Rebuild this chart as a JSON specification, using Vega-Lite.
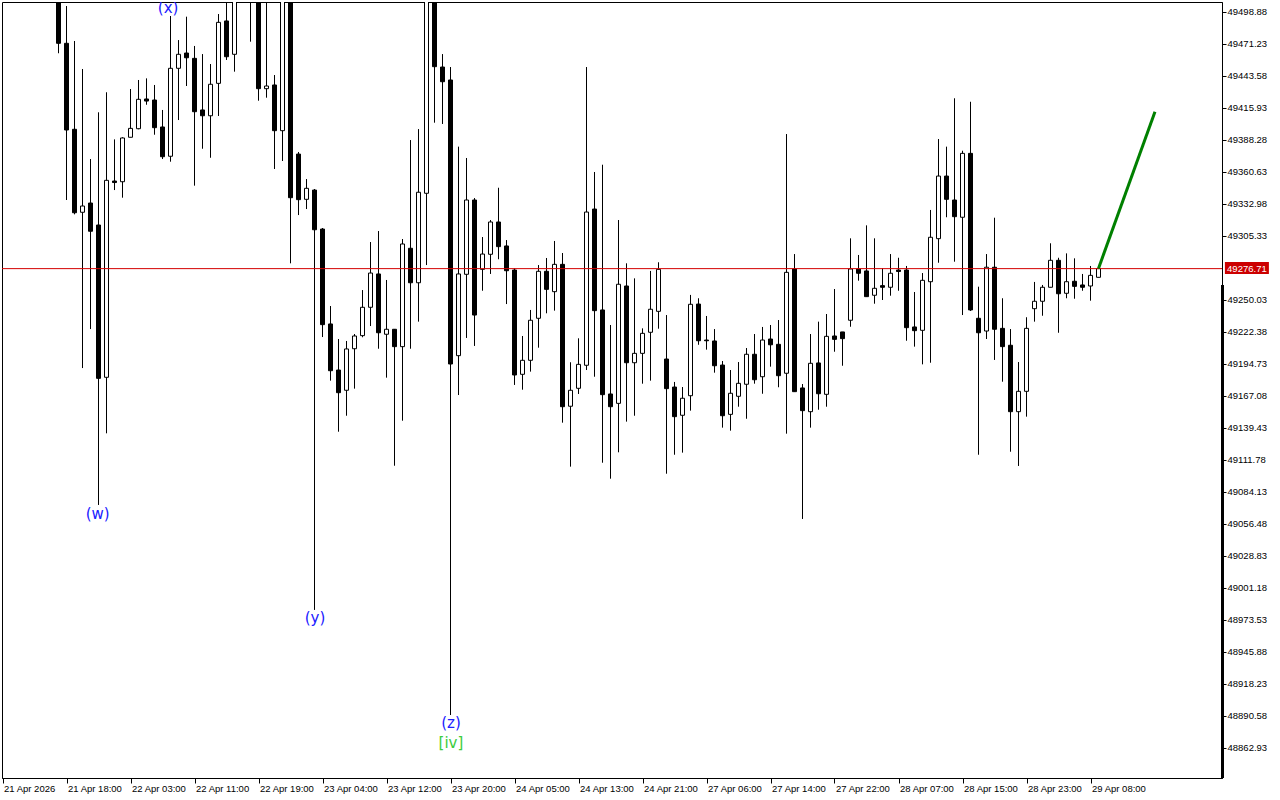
{
  "$schema": "https://vega.github.io/schema/vega-lite/v6.json",
  "width": 1220,
  "height": 776,
  "autosize": {"type": "none"},
  "padding": {"left": 2, "top": 2, "right": 58, "bottom": 22},
  "background": "#ffffff",
  "config": {
    "view": {"stroke": "#000000", "strokeWidth": 1},
    "font": "Liberation Sans",
    "axis": {"labelOverlap": false, "labelBound": false, "labelFlush": false, "grid": false, "title": null},
    "axisY": {"labelOverlap": false, "tickCount": 40},
    "axisX": {"labelOverlap": false, "tickCount": 40}
  },
  "datasets": {
    "candles": [
      {"i":7,"o":49521.8,"h":49534.7,"l":49462.8,"c":49471.4},
      {"i":8,"o":49471.4,"h":49503.6,"l":49336.0,"c":49396.5},
      {"i":9,"o":49397.1,"h":49473.4,"l":49323.6,"c":49325.0},
      {"i":10,"o":49325.4,"h":49449.2,"l":49190.8,"c":49330.8},
      {"i":11,"o":49333.4,"h":49371.4,"l":49224.5,"c":49309.0},
      {"i":12,"o":49314.4,"h":49411.8,"l":49072.5,"c":49181.9},
      {"i":13,"o":49182.8,"h":49429.1,"l":49134.4,"c":49353.0},
      {"i":14,"o":49352.4,"h":49388.4,"l":49344.6,"c":49351.1},
      {"i":15,"o":49351.8,"h":49390.2,"l":49338.0,"c":49389.6},
      {"i":16,"o":49390.2,"h":49431.9,"l":49390.2,"c":49397.9},
      {"i":17,"o":49397.6,"h":49439.7,"l":49397.1,"c":49423.0},
      {"i":18,"o":49423.3,"h":49441.1,"l":49418.3,"c":49421.5},
      {"i":19,"o":49422.4,"h":49435.4,"l":49392.4,"c":49398.5},
      {"i":20,"o":49399.1,"h":49413.8,"l":49371.4,"c":49373.4},
      {"i":21,"o":49373.8,"h":49495.0,"l":49369.1,"c":49449.8},
      {"i":22,"o":49449.8,"h":49474.2,"l":49405.1,"c":49461.9},
      {"i":23,"o":49463.0,"h":49494.4,"l":49434.5,"c":49458.9},
      {"i":24,"o":49458.4,"h":49469.1,"l":49348.4,"c":49412.3},
      {"i":25,"o":49413.8,"h":49462.1,"l":49380.3,"c":49408.8},
      {"i":26,"o":49408.8,"h":49453.5,"l":49372.5,"c":49436.0},
      {"i":27,"o":49436.8,"h":49496.7,"l":49408.6,"c":49489.5},
      {"i":28,"o":49490.7,"h":49513.1,"l":49457.0,"c":49459.8},
      {"i":29,"o":49461.9,"h":49526.1,"l":49446.9,"c":49517.4},
      {"i":30,"o":49526.1,"h":49552.0,"l":49511.4,"c":49543.4},
      {"i":31,"o":49543.4,"h":49552.0,"l":49472.8,"c":49521.8},
      {"i":32,"o":49521.8,"h":49530.4,"l":49421.8,"c":49432.2},
      {"i":33,"o":49432.2,"h":49517.4,"l":49424.4,"c":49434.5},
      {"i":34,"o":49435.4,"h":49444.0,"l":49362.8,"c":49395.9},
      {"i":35,"o":49395.9,"h":49526.1,"l":49369.7,"c":49517.4},
      {"i":36,"o":49517.4,"h":49526.1,"l":49281.3,"c":49338.0},
      {"i":37,"o":49375.7,"h":49377.5,"l":49323.0,"c":49336.3},
      {"i":38,"o":49336.6,"h":49354.1,"l":49328.2,"c":49346.1},
      {"i":39,"o":49344.6,"h":49345.5,"l":48981.8,"c":49310.3},
      {"i":40,"o":49310.9,"h":49311.8,"l":49217.6,"c":49228.3},
      {"i":41,"o":49228.9,"h":49244.4,"l":49179.9,"c":49188.5},
      {"i":42,"o":49189.1,"h":49215.9,"l":49135.8,"c":49169.5},
      {"i":43,"o":49171.6,"h":49214.2,"l":49149.6,"c":49207.3},
      {"i":44,"o":49207.5,"h":49220.2,"l":49173.0,"c":49218.5},
      {"i":45,"o":49218.8,"h":49258.2,"l":49217.4,"c":49243.3},
      {"i":46,"o":49243.3,"h":49299.7,"l":49227.1,"c":49272.9},
      {"i":47,"o":49272.1,"h":49309.2,"l":49207.5,"c":49221.3},
      {"i":48,"o":49220.0,"h":49266.9,"l":49182.5,"c":49224.3},
      {"i":49,"o":49224.3,"h":49224.5,"l":49106.4,"c":49209.3},
      {"i":50,"o":49209.3,"h":49302.3,"l":49145.3,"c":49298.0},
      {"i":51,"o":49294.3,"h":49387.8,"l":49207.5,"c":49264.5},
      {"i":52,"o":49264.5,"h":49397.3,"l":49230.9,"c":49342.7},
      {"i":53,"o":49341.8,"h":49526.1,"l":49279.8,"c":49517.4},
      {"i":54,"o":49517.4,"h":49526.1,"l":49402.8,"c":49451.2},
      {"i":55,"o":49450.9,"h":49462.1,"l":49401.7,"c":49438.2},
      {"i":56,"o":49439.7,"h":49450.9,"l":48891.0,"c":49194.3},
      {"i":57,"o":49201.5,"h":49382.1,"l":49167.5,"c":49272.1},
      {"i":58,"o":49271.8,"h":49372.3,"l":49216.8,"c":49336.0},
      {"i":59,"o":49336.0,"h":49337.7,"l":49209.9,"c":49236.6},
      {"i":60,"o":49276.1,"h":49304.0,"l":49257.6,"c":49289.3},
      {"i":61,"o":49289.1,"h":49318.7,"l":49272.1,"c":49317.0},
      {"i":62,"o":49317.0,"h":49346.6,"l":49284.8,"c":49295.7},
      {"i":63,"o":49296.3,"h":49301.4,"l":49246.1,"c":49274.9},
      {"i":64,"o":49275.5,"h":49277.0,"l":49176.2,"c":49184.8},
      {"i":65,"o":49185.4,"h":49218.5,"l":49172.1,"c":49197.5},
      {"i":66,"o":49197.5,"h":49241.0,"l":49187.7,"c":49232.1},
      {"i":67,"o":49233.8,"h":49279.8,"l":49208.4,"c":49274.4},
      {"i":68,"o":49274.4,"h":49285.9,"l":49238.1,"c":49258.8},
      {"i":69,"o":49256.8,"h":49300.6,"l":49240.4,"c":49280.4},
      {"i":70,"o":49280.4,"h":49290.2,"l":49143.6,"c":49157.4},
      {"i":71,"o":49157.8,"h":49195.8,"l":49105.6,"c":49171.6},
      {"i":72,"o":49173.3,"h":49216.5,"l":49168.4,"c":49194.0},
      {"i":73,"o":49193.2,"h":49450.9,"l":49189.1,"c":49325.6},
      {"i":74,"o":49328.2,"h":49360.2,"l":49183.3,"c":49240.4},
      {"i":75,"o":49241.0,"h":49366.5,"l":49109.0,"c":49167.8},
      {"i":76,"o":49168.4,"h":49228.0,"l":49095.2,"c":49157.4},
      {"i":77,"o":49160.3,"h":49318.7,"l":49118.0,"c":49263.2},
      {"i":78,"o":49261.7,"h":49281.3,"l":49144.5,"c":49195.4},
      {"i":79,"o":49195.4,"h":49268.3,"l":49149.6,"c":49203.5},
      {"i":80,"o":49203.5,"h":49225.1,"l":49177.3,"c":49220.8},
      {"i":81,"o":49221.7,"h":49274.7,"l":49179.9,"c":49241.6},
      {"i":82,"o":49239.8,"h":49282.2,"l":49224.8,"c":49276.1},
      {"i":83,"o":49198.6,"h":49236.6,"l":49099.5,"c":49173.0},
      {"i":84,"o":49174.4,"h":49178.8,"l":49115.9,"c":49148.8},
      {"i":85,"o":49150.0,"h":49174.4,"l":49117.7,"c":49164.7},
      {"i":86,"o":49166.9,"h":49254.0,"l":49154.0,"c":49245.9},
      {"i":87,"o":49246.1,"h":49251.1,"l":49210.9,"c":49214.4},
      {"i":88,"o":49215.0,"h":49235.8,"l":49206.7,"c":49214.4},
      {"i":89,"o":49214.2,"h":49224.5,"l":49186.8,"c":49192.8},
      {"i":90,"o":49193.4,"h":49196.9,"l":49139.3,"c":49149.6},
      {"i":91,"o":49150.8,"h":49189.1,"l":49136.7,"c":49169.0},
      {"i":92,"o":49166.4,"h":49196.0,"l":49157.4,"c":49177.6},
      {"i":93,"o":49176.8,"h":49208.1,"l":49147.0,"c":49202.7},
      {"i":94,"o":49202.7,"h":49220.2,"l":49177.3,"c":49180.7},
      {"i":95,"o":49183.3,"h":49226.3,"l":49168.6,"c":49215.0},
      {"i":96,"o":49215.9,"h":49228.0,"l":49192.0,"c":49210.9},
      {"i":97,"o":49211.3,"h":49232.3,"l":49174.2,"c":49184.2},
      {"i":98,"o":49186.3,"h":49393.0,"l":49134.1,"c":49273.5},
      {"i":99,"o":49276.4,"h":49289.3,"l":49170.4,"c":49170.4},
      {"i":100,"o":49173.6,"h":49177.0,"l":49060.4,"c":49154.0},
      {"i":101,"o":49153.1,"h":49220.2,"l":49139.3,"c":49194.9},
      {"i":102,"o":49195.2,"h":49230.9,"l":49154.8,"c":49168.6},
      {"i":103,"o":49168.1,"h":49237.5,"l":49157.4,"c":49218.2},
      {"i":104,"o":49218.5,"h":49259.1,"l":49204.9,"c":49215.6},
      {"i":105,"o":49222.0,"h":49222.0,"l":49192.8,"c":49216.2},
      {"i":106,"o":49232.1,"h":49302.9,"l":49226.5,"c":49276.4},
      {"i":107,"o":49276.4,"h":49288.5,"l":49266.3,"c":49272.7},
      {"i":108,"o":49274.7,"h":49314.1,"l":49252.5,"c":49252.5},
      {"i":109,"o":49253.7,"h":49302.9,"l":49246.4,"c":49259.7},
      {"i":110,"o":49262.0,"h":49277.0,"l":49249.6,"c":49260.6},
      {"i":111,"o":49260.6,"h":49289.3,"l":49253.3,"c":49272.7},
      {"i":112,"o":49275.5,"h":49286.1,"l":49257.6,"c":49274.2},
      {"i":113,"o":49275.5,"h":49279.0,"l":49214.4,"c":49225.7},
      {"i":114,"o":49226.3,"h":49256.5,"l":49209.3,"c":49223.1},
      {"i":115,"o":49223.4,"h":49272.9,"l":49194.0,"c":49266.6},
      {"i":116,"o":49265.4,"h":49327.4,"l":49195.4,"c":49303.8},
      {"i":117,"o":49302.6,"h":49388.7,"l":49281.8,"c":49356.7},
      {"i":118,"o":49356.7,"h":49382.1,"l":49321.1,"c":49336.6},
      {"i":119,"o":49336.0,"h":49423.9,"l":49282.7,"c":49321.6},
      {"i":120,"o":49321.1,"h":49378.6,"l":49236.6,"c":49376.3},
      {"i":121,"o":49376.3,"h":49420.9,"l":49240.1,"c":49241.0},
      {"i":122,"o":49233.8,"h":49261.1,"l":49115.9,"c":49221.3},
      {"i":123,"o":49222.8,"h":49289.3,"l":49215.9,"c":49277.9},
      {"i":124,"o":49277.9,"h":49320.7,"l":49197.8,"c":49224.3},
      {"i":125,"o":49225.1,"h":49251.1,"l":49179.0,"c":49209.3},
      {"i":126,"o":49210.5,"h":49224.5,"l":49118.5,"c":49153.1},
      {"i":127,"o":49153.1,"h":49196.0,"l":49106.2,"c":49170.7},
      {"i":128,"o":49170.7,"h":49234.7,"l":49148.8,"c":49225.1},
      {"i":129,"o":49242.1,"h":49265.2,"l":49230.9,"c":49248.5},
      {"i":130,"o":49248.5,"h":49262.6,"l":49236.0,"c":49260.6},
      {"i":131,"o":49260.6,"h":49298.6,"l":49260.6,"c":49283.9},
      {"i":132,"o":49283.9,"h":49286.1,"l":49221.3,"c":49255.0},
      {"i":133,"o":49255.4,"h":49289.9,"l":49251.1,"c":49265.4},
      {"i":134,"o":49265.8,"h":49285.6,"l":49250.7,"c":49261.4},
      {"i":135,"o":49262.6,"h":49272.1,"l":49257.6,"c":49260.6},
      {"i":136,"o":49261.7,"h":49279.0,"l":49249.0,"c":49270.9},
      {"i":137,"o":49269.2,"h":49279.0,"l":49269.2,"c":49276.71}
    ],
    "waves": [
      {"t":"(x)","i":20.7,"p":49502.3,"deg":"minor"},
      {"t":"(w)","i":11.9,"p":49064.7,"deg":"minor"},
      {"t":"(y)","i":39.06,"p":48974.8,"deg":"minor"},
      {"t":"(z)","i":56.06,"p":48884.1,"deg":"minor"},
      {"t":"[iv]","i":56.06,"p":48866.8,"deg":"intermediate"}
    ],
    "proj": [
      {"i":137,"p":49276.9},
      {"i":144.06,"p":49412.3}
    ],
    "one": [{}]
  },
  "layer": [
    {
      "data": {"name": "candles"},
      "mark": {"type": "rule", "color": "#000000", "strokeWidth": 1, "clip": true},
      "encoding": {
        "x": {
          "field": "i", "type": "quantitative", "title": null,
          "scale": {"domain": [-0.0625, 152.4375], "nice": false, "zero": false, "padding": 0},
          "axis": {
            "orient": "bottom", "title": null, "grid": false, "tickCount": 40,
            "values": [0,8,16,24,32,40,48,56,64,72,80,88,96,104,112,120,128,136],
            "labelExpr": "['21 Apr 2026','21 Apr 18:00','22 Apr 03:00','22 Apr 11:00','22 Apr 19:00','23 Apr 04:00','23 Apr 12:00','23 Apr 20:00','24 Apr 05:00','24 Apr 13:00','24 Apr 21:00','27 Apr 06:00','27 Apr 14:00','27 Apr 22:00','28 Apr 07:00','28 Apr 15:00','28 Apr 23:00','29 Apr 08:00'][round(datum.value/8)]",
            "tickSize": 5, "tickColor": "#000000", "domainColor": "#000000",
            "labelAlign": "left", "labelBaseline": "top", "labelPadding": 0,
            "labelFont": "Liberation Sans", "labelFontSize": 9.5, "labelColor": "#000000",
            "labelOverlap": false, "labelBound": false, "labelFlush": false, "labelOffset": 1
          }
        },
        "y": {
          "field": "l", "type": "quantitative", "title": null,
          "scale": {"domain": [48836.58, 49507.09], "nice": false, "zero": false, "padding": 0},
          "axis": {
            "orient": "right", "title": null, "grid": false, "tickCount": 40,
            "values": [49498.88,49471.23,49443.58,49415.93,49388.28,49360.63,49332.98,49305.33,49250.03,49222.38,49194.73,49167.08,49139.43,49111.78,49084.13,49056.48,49028.83,49001.18,48973.53,48945.88,48918.23,48890.58,48862.93],
            "format": ".2f", "tickSize": 4, "tickColor": "#000000", "domainColor": "#000000",
            "labelPadding": 1, "labelFont": "Liberation Sans", "labelFontSize": 9.5,
            "labelColor": "#000000", "labelBaseline": "middle", "labelOverlap": false, "labelBound": false, "labelFlush": false
          }
        },
        "y2": {"field": "h"}
      }
    },
    {
      "data": {"name": "candles"},
      "mark": {"type": "bar", "size": 4, "stroke": "#000000", "strokeWidth": 1, "clip": true},
      "encoding": {
        "x": {"field": "i", "type": "quantitative", "title": null},
        "y": {"field": "o", "type": "quantitative", "title": null},
        "y2": {"field": "c"},
        "fill": {"condition": {"test": "datum.c < datum.o", "value": "#000000"}, "value": "#ffffff"}
      }
    },
    {
      "data": {"name": "one"},
      "mark": {"type": "rule", "color": "#d40000", "strokeWidth": 1},
      "encoding": {"y": {"datum": 49276.71, "type": "quantitative", "title": null}}
    },
    {
      "data": {"name": "proj"},
      "mark": {"type": "line", "color": "#008000", "strokeWidth": 3, "clip": false},
      "encoding": {
        "x": {"field": "i", "type": "quantitative", "title": null},
        "y": {"field": "p", "type": "quantitative", "title": null}
      }
    },
    {
      "data": {"name": "waves"},
      "mark": {"type": "text", "font": "DejaVu Sans", "fontSize": 15, "align": "center", "baseline": "middle", "clip": true},
      "encoding": {
        "x": {"field": "i", "type": "quantitative", "title": null},
        "y": {"field": "p", "type": "quantitative", "title": null},
        "text": {"field": "t"},
        "color": {"field": "deg", "type": "nominal", "scale": {"domain": ["minor", "intermediate"], "range": ["#2020ff", "#3ccc3c"]}, "legend": null}
      }
    },
    {
      "data": {"name": "one"},
      "mark": {"type": "rule", "color": "#000000", "strokeWidth": 3, "clip": false},
      "encoding": {
        "x": {"datum": 152.5, "type": "quantitative", "title": null},
        "y": {"datum": 49262.5, "type": "quantitative", "title": null},
        "y2": {"datum": 48836.58}
      }
    },
    {
      "data": {"name": "one"},
      "mark": {"type": "rect", "color": "#cc0000", "clip": false},
      "encoding": {
        "x": {"datum": 152.8, "type": "quantitative", "title": null},
        "x2": {"datum": 158.3},
        "y": {"datum": 49282.4, "type": "quantitative", "title": null},
        "y2": {"datum": 49272.0}
      }
    },
    {
      "data": {"name": "one"},
      "mark": {"type": "text", "text": "49276.71", "color": "#ffffff", "font": "Liberation Sans", "fontSize": 9.5, "align": "center", "baseline": "middle", "clip": false},
      "encoding": {
        "x": {"datum": 155.55, "type": "quantitative", "title": null},
        "y": {"datum": 49276.71, "type": "quantitative", "title": null}
      }
    }
  ]
}
